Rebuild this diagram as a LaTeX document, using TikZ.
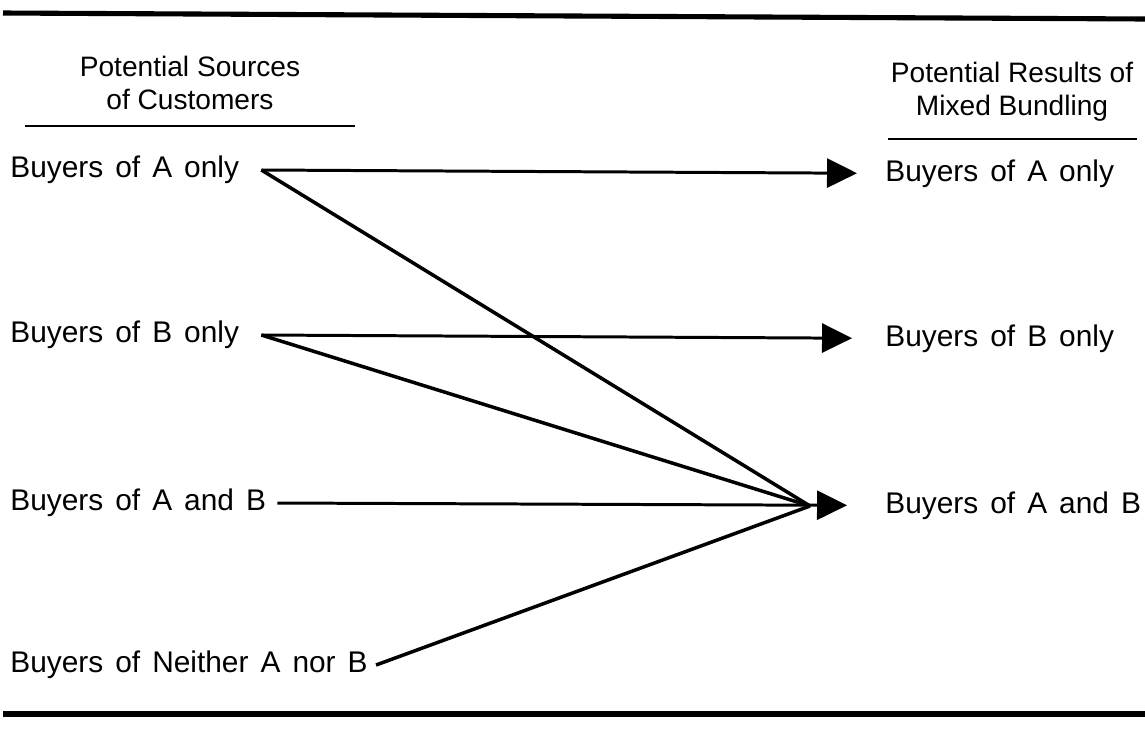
\documentclass[tikz,border=0pt]{standalone}
\usepackage{fontspec}
\setmainfont{Liberation Sans}
\newfontfamily\lblfont[WordSpace=1.45]{Liberation Sans}
\usetikzlibrary{arrows.meta}

\begin{document}
\begin{tikzpicture}[x=0.02cm,y=-0.02cm,
    lbl/.style={font=\lblfont\fontsize{17}{20}\selectfont,inner sep=0pt},
    head/.style={font=\fontsize{16}{18.7}\selectfont,align=center,inner sep=0pt},
    flow/.style={line width=1.7pt,-{Triangle[length=0.6cm,width=0.58cm]}},
    feed/.style={line width=2pt},
    rule/.style={line width=2.9pt}]
    \useasboundingbox (0,0) rectangle (1145,731);

    % 横线
    \draw[rule] (3,13) -- (1145,19);
    \draw[rule] (3,714) -- (1145,714);

    % 标题
    \node[head] (src) at (190,83) {Potential Sources\\of Customers};
    \node[head] (res) at (1012,92) {Potential Results of\\Mixed Bundling};
    \draw[line width=1.3pt] (25,126) -- (355,126);
    \draw[line width=1.3pt] (888,139) -- (1137,139);

    % 左侧
    \foreach \name/\y/\gap/\txt in {la/170/22/{Buyers of A only},lb/335/22/{Buyers of B only},lab/503/11/{Buyers of A and B},ln/665/8/{Buyers of Neither A nor B}} {
        \node[lbl,anchor=west] (\name) at (10,\y) {\txt};
        \coordinate (\name-out) at ([xshift=\gap*0.02cm]\name.east);
    }

    % 右侧
    \foreach \name/\y/\txt in {ra/174/{Buyers of A only},rb/339/{Buyers of B only},rab/506/{Buyers of A and B}}
        \node[lbl,anchor=west] (\name) at (885,\y) {\txt};

    \coordinate (hub) at (810,506);

    % 箭头
    \draw[flow,shorten >=0.56cm] (la-out) -- (ra);
    \draw[flow,shorten >=0.66cm] (lb-out) -- (rb);
    \draw[flow,shorten >=0.76cm] (lab-out) -- (rab);

    % 汇合
    \draw[feed] (la-out) -- (hub);
    \draw[feed] (lb-out) -- (hub);
    \draw[feed] (ln-out) -- (hub);
\end{tikzpicture}
\end{document}
